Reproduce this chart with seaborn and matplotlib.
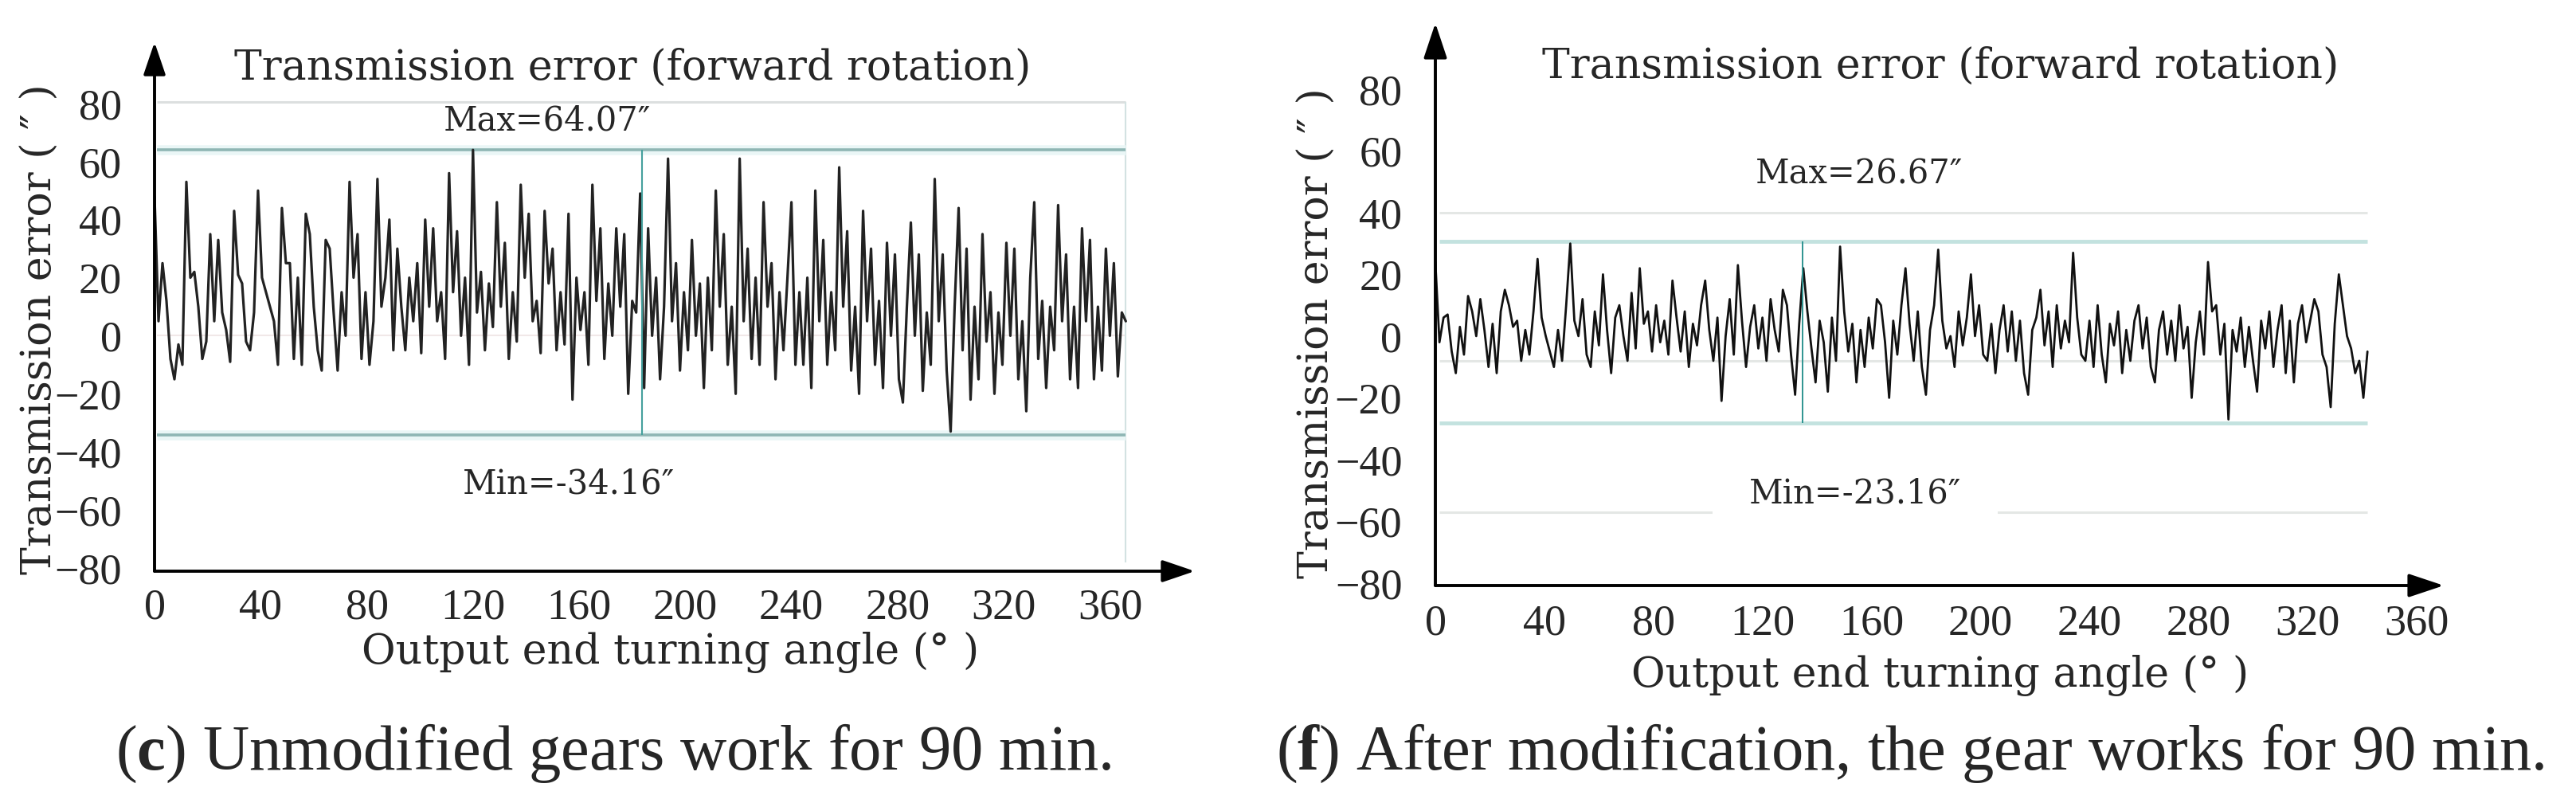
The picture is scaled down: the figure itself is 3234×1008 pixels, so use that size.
import numpy as np
import matplotlib
matplotlib.use("Agg")
import matplotlib.pyplot as plt
import seaborn as sns

# ---- data (one value every ~1.5 deg) ----
# (c) unmodified gears, 90 min
left_error = [
    48, 5, 25, 12, -8, -15, -3, -10, 53, 20, 22, 10, -8, -2, 35, 5, 33, 8, 2, -9,
    43, 21, 18, -2, -5, 8, 50, 20, 15, 10, 5, -10, 44, 25, 25, -8, 20, -10, 42, 35,
    10, -5, -12, 33, 30, 8, -12, 15, 0, 53, 20, 35, -8, 15, -10, 5, 54, 10, 20, 40,
    -5, 30,
    10, -5, 20, 5, 25, -6, 40, 10, 37, 5, 15, -8, 56, 15, 36, 0, 20, -10, 64, 8,
    22, -5, 18, 3, 46, 10, 32, -8, 15, -2, 52, 20, 42, 5, 12, -6, 43, 18, 30, -5,
    15, -3, 42, -22, 20, 2, 15, -10, 52, 12, 37, -8, 18, 0, 37, 10, 35, -20, 12, 8,
    49, -18, 37, 0, 20, -15, 10, 61, 5, 25, -12, 15, -5, 33, 0, 18, -18, 20, -5, 50,
    10, 35, -10, 10, -20, 61, 5, 30, -8, 20, -10, 46, 10, 25, -15, 15, -5, 20, 46, -10,
    15, -10, 20, -18, 50, 5, 33, -10, 15, -5, 58, 10, 36, -12, 10, -20, 43, 5, 30, -10,
    12, -18, 32, 0, 28, -15, -23, 10, 39, 0, 28, -19, 8, -10, 54, 5, 28, -12, -33, 10,
    44, -5, 30, -22, 10, -15, 35, -2, 15, -20, 8, -10, 32, 0, 30, -15, 5, -26, 20, 46,
    -8, 12, -18, 10, -5, 45, 5, 28, -15, 10, -18, 37, 5, 33, -15, 10, -12, 30, 0, 25,
    -14, 8, 5,
]
left_end = 366
left_max, left_min = 64.07, -34.16
left_cut = 183.8

# (f) after modification, 90 min
right_error = [
    24, -2, 6, 7, -5, -12, 3, -6, 13, 8,
    0, 12, 2, -10, 4, -12, 8, 15, 10, 3,
    5, -8, 2, -6, 8, 25, 6, 0, -5, -10,
    2, -8, 10, 30, 5, 0, 12, -6, -10, 8,
    -3, 20, 2, -12, 6, 10, 0, -8, 14, -4,
    22, 4, 8, -5, 10, -2, 5, -6, 18, 6,
    -5, 8, -10, 4, -3, 10, 18, 2, -8, 6,
    -21, 0, 12, -6, 23, 5, -10, 3, 10, -4,
    6, -8, 12, 2, -5, 15, 10, -6, -19, 4,
    22, 8, -4, -15, 5, -2, -18, 6, -8, 29,
    8, -5, 4, -15, 2, -10, 6, -4, 12, 10,
    -2, -20, 5, -6, 10, 22, 4, -8, 8, -10,
    -19, 2, 10, 28, 5, -4, 0, -10, 8, -3,
    6, 20, 0, 10, -6, -8, 4, -12, 2, 10,
    -5, 8, -8, 5, -12, -19, 2, 6, 15, -3,
    8, -10, 10, -4, 5, -2, 27, 6, -6, -8,
    5, -10, 10, -6, -15, 4, -3, 8, -12, 2,
    -8, 5, 10, -4, 6, -10, -15, 2, 8, -6,
    5, -8, 10, -4, 3, -20, -2, 8, -6, 24,
    8, 10, -6, 4, -27, 2, -5, 6, -10, 3,
    -8, -18, 5, -4, 8, -10, 2, 10, -12, 5,
    -15, 4, 10, -2, 5, 12, 8, -6, -10, -23,
    4, 20, 10, 0, -4, -12, -8, -20, -5,
]
right_end = 342
right_top, right_bottom = 30.7, -28.1
right_max, right_min = 26.67, -23.16
right_cut = 134.8
right_grid = [40, -8, -57]

x_ticks = list(range(0, 361, 40))
y_ticks = list(range(-80, 81, 20))
title = "Transmission error (forward rotation)"
x_label = "Output end turning angle (° )"
y_label = "Transmission error ( ″ )"
captions = [r"($\mathbf{c}$) Unmodified gears work for 90 min.",
            r"($\mathbf{f}$) After modification, the gear works for 90 min."]

# ---- style ----
sns.set_style("white")
plt.rcParams["font.family"] = ["Liberation Serif", "DejaVu Serif"]
plt.rcParams["mathtext.fontset"] = "custom"
plt.rcParams["mathtext.rm"] = "Liberation Serif"
plt.rcParams["mathtext.bf"] = "Liberation Serif:bold"
song = ["DejaVu Serif", "DejaVu Sans"]

W, H = 3234, 1008
fig = plt.figure(figsize=(W / 100, H / 100), dpi=100)


def px_box(l, t, r, b):
    return [l / W, 1 - b / H, (r - l) / W, (b - t) / H]


def arrows(ax, hl, hw):
    style = f"-|>,head_length={hl},head_width={hw}"
    for end in [(1, 0), (0, 1)]:
        ax.annotate("", xy=end, xytext=(0, 0), xycoords="axes fraction",
                    arrowprops=dict(arrowstyle=style, lw=2.8, color="black",
                                    shrinkA=0, shrinkB=0, mutation_scale=10))


def setup(ax, xlim, ylim, ypad, xpad):
    ax.set_xlim(*xlim)
    ax.set_ylim(*ylim)
    ax.set_xticks(x_ticks)
    ax.set_yticks(y_ticks)
    ax.tick_params(axis="both", length=0, labelsize=39)
    ax.tick_params(axis="y", pad=ypad)
    ax.tick_params(axis="x", pad=xpad)
    ax.set_xlabel("")
    ax.set_ylabel("")
    sns.despine(ax=ax, left=True, bottom=True)


# ---- left panel ----
ax1 = fig.add_axes(px_box(194, 53, 1500, 717))
left_angle = np.linspace(0, left_end, len(left_error))
ax1.hlines(0, 1, left_end, color="#f1e8e8", lw=1.5, zorder=1)
ax1.hlines(80.5, 1, left_end, color="#dcdfdf", lw=2.2, zorder=1)
ax1.vlines(left_end, -78, 80.5, color="#d3e2e2", lw=1.5, zorder=1)
ax1.hlines([left_max, left_min], 1, left_end, color="#eaf6f6", lw=9, zorder=1)
ax1.hlines([left_max, left_min], 1, left_end, color="#8fb6b4", lw=2.6, zorder=2)
sns.lineplot(x=left_angle, y=left_error, ax=ax1, color="#222222", linewidth=2.3,
             estimator=None, sort=False, zorder=3)
ax1.vlines(left_cut, left_min, left_max, color="#45a09d", lw=1.5, zorder=4)
ax1.text(148, 74, f"Max={left_max:.2f}″", ha="center", va="center",
         fontsize=30, family=song)
ax1.text(156, -51, f"Min={left_min:.2f}″", ha="center", va="center",
         fontsize=30, family=song)
setup(ax1, (0, 392), (-81.1, 101.1), 29.5, 15)
arrows(ax1, 2.5, 0.85)

# ---- right panel ----
ax2 = fig.add_axes(px_box(1802, 29, 3068, 735))
right_angle = np.linspace(0, right_end, len(right_error))
ax2.hlines(right_grid, 1.5, right_end, color="#e4e7e5", lw=2.2, zorder=1)
ax2.hlines([right_top, right_bottom], 1.5, right_end, color="#c3e2df", lw=3.5, zorder=2)
sns.lineplot(x=right_angle, y=right_error, ax=ax2, color="#111111", linewidth=2.0,
             estimator=None, sort=False, zorder=3)
ax2.vlines(right_cut, right_bottom, right_top, color="#2e9491", lw=1.4, zorder=4)
ax2.text(155.6, 52.6, f"Max={right_max:.2f}″", ha="center", va="center",
         fontsize=30, family=song)
ax2.text(154, -51, f"Min={right_min:.2f}″", ha="center", va="center",
         fontsize=30, family=song, zorder=5,
         bbox=dict(boxstyle="square,pad=1.1", fc="white", ec="none"))
setup(ax2, (0, 370), (-80.8, 101.4), 30, 16.5)
arrows(ax2, 2.7, 0.9)

# ---- labels outside the axes ----
for cx, base in [(794, 100), (2436, 98)]:
    fig.text(cx / W, 1 - base / H, title, ha="center", va="baseline",
             fontsize=37.5, family=song)
for cx, cy in [(842, 819), (2436, 848)]:
    fig.text(cx / W, 1 - cy / H, x_label, ha="center", va="center",
             fontsize=37.5, family=song)
for cx, cy in [(50, 413), (1653, 418)]:
    fig.text(cx / W, 1 - cy / H, y_label, ha="center", va="center",
             rotation=90, fontsize=37.5, family=song)
for cx, cap in zip([770, 2398], captions):
    fig.text(cx / W, 1 - 966 / H, cap, ha="center", va="baseline", fontsize=58)

fig.savefig("out.png", dpi=100, facecolor="white")
